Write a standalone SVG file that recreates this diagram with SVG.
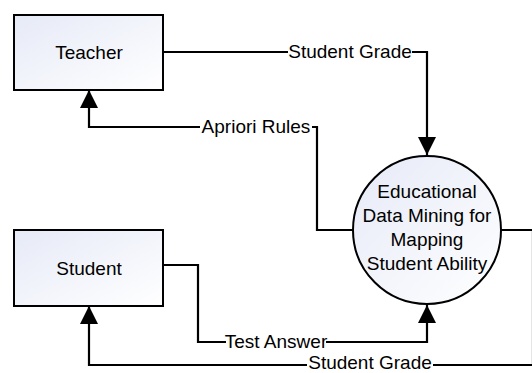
<svg xmlns="http://www.w3.org/2000/svg" width="532" height="373" viewBox="0 0 532 373">
<style>
.node{stroke:#000;stroke-width:2}
.lbl{font-family:"Liberation Sans",Arial,sans-serif;font-size:19px;fill:#000;text-anchor:middle}
.edge{fill:none;stroke:#000;stroke-width:2.2}
.elbl{font-family:"Liberation Sans",Arial,sans-serif;font-size:19px;fill:#000;text-anchor:middle;dominant-baseline:central}
.bg{fill:#fff}
</style>
<defs>
<linearGradient id="g" x1="0" y1="0" x2="1" y2="1">
<stop offset="0" stop-color="#e6eaf7"/>
<stop offset="1" stop-color="#ffffff"/>
</linearGradient>
<marker id="a" viewBox="0 0 18 18" refX="18" refY="9" markerWidth="18" markerHeight="18" markerUnits="userSpaceOnUse" orient="auto">
<path d="M0,0 L18,9 L0,18 Z" fill="#000"/>
</marker>
</defs>
<rect width="532" height="373" fill="#fff"/>
<g id="connectors">
<path class="edge" d="M163,52 H427 V155" marker-end="url(#a)"/>
<path class="edge" d="M353,230 H317 V127 H89 V90" marker-end="url(#a)"/>
<path class="edge" d="M501,230 H533 V365 H89 V306" marker-end="url(#a)"/>
<path class="edge" d="M163,265 H198 V342 H427 V305" marker-end="url(#a)"/>
<rect class="bg" x="288" y="42" width="124" height="20"/>
<text class="elbl" x="350" y="51">Student Grade</text>
<rect class="bg" x="200" y="117" width="112" height="20"/>
<text class="elbl" x="256" y="126">Apriori Rules</text>
<rect class="bg" x="226" y="332" width="100" height="20"/>
<text class="elbl" x="276" y="341">Test Answer</text>
<rect class="bg" x="307" y="355" width="126" height="18"/>
<text class="elbl" x="370" y="362">Student Grade</text>
</g>
<g id="teacher">
<rect class="node" x="14" y="15" width="149" height="75" fill="url(#g)"/>
<text class="lbl" x="89" y="59">Teacher</text>
</g>
<g id="student">
<rect class="node" x="14" y="230" width="149" height="76" fill="url(#g)"/>
<text class="lbl" x="89" y="275">Student</text>
</g>
<g id="process">
<circle class="node" cx="427" cy="230" r="74" fill="url(#g)"/>
<text class="lbl" x="427" y="198">Educational</text>
<text class="lbl" x="427" y="222">Data Mining for</text>
<text class="lbl" x="427" y="246">Mapping</text>
<text class="lbl" x="427" y="270">Student Ability</text>
</g>
</svg>
